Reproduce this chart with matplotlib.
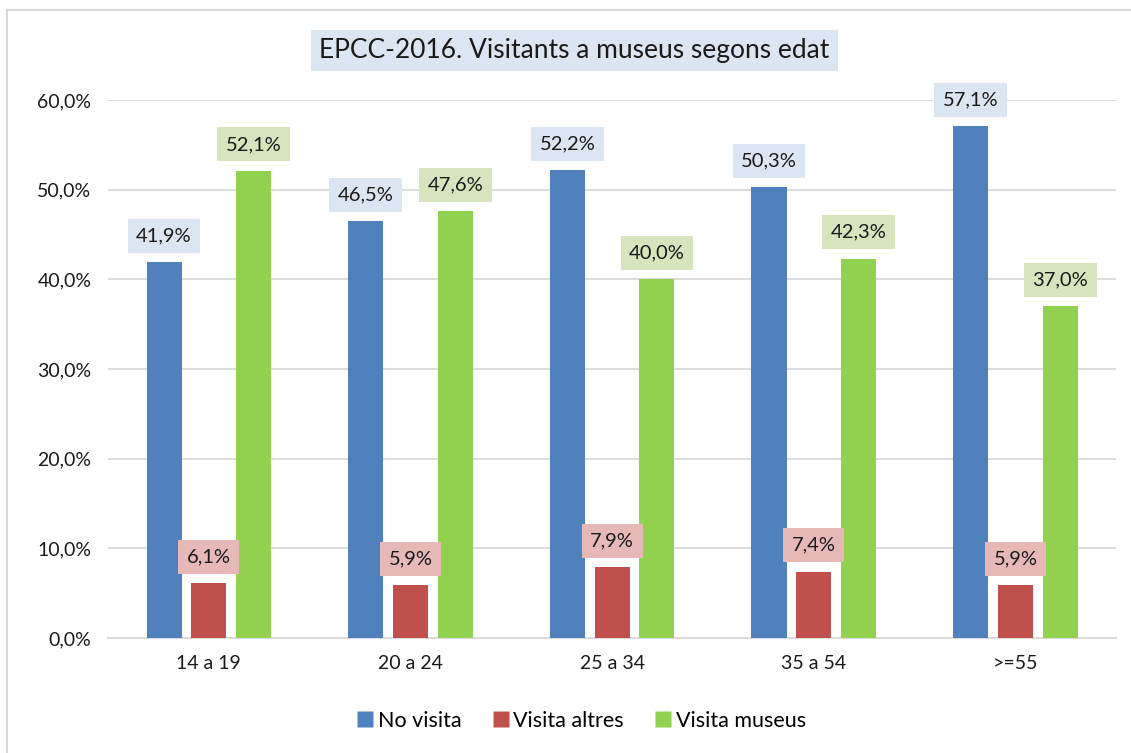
import numpy as np
import matplotlib
matplotlib.use("Agg")
import matplotlib.pyplot as plt
from matplotlib.lines import Line2D

plt.rcParams['font.family'] = ['Lato', 'DejaVu Sans']

# age groups and the three series (percent)
groups = ['14 a 19', '20 a 24', '25 a 34', '35 a 54', '>=55']
no_visita = [41.9, 46.5, 52.2, 50.3, 57.1]
visita_altres = [6.1, 5.9, 7.9, 7.4, 5.9]
visita_museus = [52.1, 47.6, 40.0, 42.3, 37.0]
yticks = [0, 10, 20, 30, 40, 50, 60]

series = [
    ('No visita', no_visita, '#4F81BD', '#DCE6F2'),
    ('Visita altres', visita_altres, '#C0504D', '#E6B9B8'),
    ('Visita museus', visita_museus, '#92D050', '#D7E4BD'),
]

fig = plt.figure(figsize=(11.31, 7.53), dpi=100)
ax = fig.add_axes([0.0955, 0.1527, 0.8915, 0.7145])

x = np.arange(len(groups))
width = 0.174
step = 0.222

for i, (name, vals, color, boxcol) in enumerate(series):
    pos = x + (i - 1) * step
    ax.bar(pos, vals, width=width, color=color, label=name, zorder=3)
    for px, v in zip(pos, vals):
        txt = '{:.1f}%'.format(v).replace('.', ',')
        ax.annotate(txt, (px, v), xytext=(0, 19), textcoords='offset points',
                    ha='center', va='center', fontsize=14.5, color='#1a1a1a',
                    bbox=dict(boxstyle='square,pad=0.42', fc=boxcol, ec='none'),
                    zorder=4, annotation_clip=False)

ax.set_xlim(-0.5, len(groups) - 0.5)
ax.set_ylim(0, 60)
ax.set_yticks(yticks)
ax.set_yticklabels(['{:.1f}%'.format(t).replace('.', ',') for t in yticks])
ax.set_xticks(x)
ax.set_xticklabels(groups)
ax.tick_params(axis='both', length=0, labelsize=14, colors='#1a1a1a')
ax.tick_params(axis='y', pad=12)
ax.tick_params(axis='x', pad=12)
ax.grid(axis='y', color='#D9D9D9', linewidth=1.3, zorder=0)
ax.set_axisbelow(True)
for s in ['top', 'right', 'left']:
    ax.spines[s].set_visible(False)
ax.spines['bottom'].set_color('#D9D9D9')
ax.spines['bottom'].set_linewidth(1.3)

# title with a light blue box
fig.text(0.508, 0.933, 'EPCC-2016. Visitants a museus segons edat', ha='center', va='center',
         fontsize=19, color='#1a1a1a',
         bbox=dict(boxstyle='square,pad=0.3', fc='#DCE6F2', ec='none'))

# legend below
handles = [Line2D([], [], marker='s', linestyle='none', markersize=11,
                  markerfacecolor=c, markeredgecolor='none') for _, _, c, _ in series]
fig.legend(handles, [n for n, _, _, _ in series], loc='center', bbox_to_anchor=(0.513, 0.043),
           ncol=3, frameon=False, fontsize=15.5, handletextpad=0.1, columnspacing=1.3,
           handlelength=1.0)

# outer chart border (left and top visible)
fig.add_artist(Line2D([0.0065, 0.0065], [0, 0.987], color='#D9D9D9', linewidth=1.5))
fig.add_artist(Line2D([0.0065, 1.0], [0.987, 0.987], color='#D9D9D9', linewidth=1.5))

fig.savefig('out.png', dpi=100)
